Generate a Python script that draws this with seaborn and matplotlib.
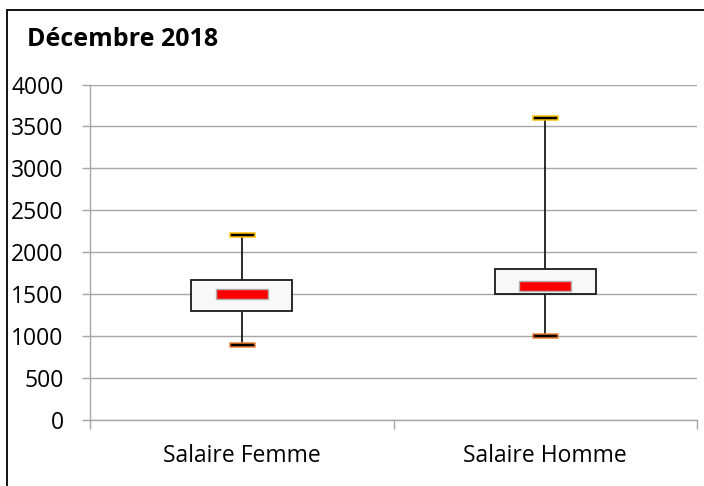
import numpy as np
import pandas as pd
import matplotlib
matplotlib.use("Agg")
import matplotlib.pyplot as plt
from matplotlib.path import Path
from matplotlib.lines import Line2D
import seaborn as sns

# ---- data ----
categories = ["Salaire Femme", "Salaire Homme"]
minimum = [900, 1000]
q1 = [1300, 1500]
median = [1500, 1600]
q3 = [1665, 1800]
maximum = [2200, 3600]
yticks = [0, 500, 1000, 1500, 2000, 2500, 3000, 3500, 4000]
title = "Décembre 2018"

# long table: five summary values per category (gives exact quartiles)
rows = []
for i, c in enumerate(categories):
    for v in (minimum[i], q1[i], median[i], q3[i], maximum[i]):
        rows.append({"cat": c, "val": v})
df = pd.DataFrame(rows)

sns.set_theme(style="white")
plt.rcParams["font.family"] = ["Open Sans", "DejaVu Sans"]

W, H = 704, 486
fig = plt.figure(figsize=(W / 100, H / 100), dpi=100)
ax = fig.add_axes([90 / W, 1 - 420 / H, (697 - 90) / W, (420 - 84.5) / H])

ax.set_axisbelow(True)
ax.yaxis.grid(True, color="#a6a6a6", linewidth=1.0)

sns.boxplot(data=df, x="cat", y="val", order=categories, whis=(0, 100),
            width=1 / 3, color="#f8f8f8", saturation=1, linecolor="#1a1a1a",
            linewidth=1.3, showcaps=False, showfliers=False,
            medianprops={"visible": False}, ax=ax)

def rect_marker(w, h):
    return Path([(-w / 2, -h / 2), (w / 2, -h / 2), (w / 2, h / 2),
                 (-w / 2, h / 2), (-w / 2, -h / 2)],
                [Path.MOVETO, Path.LINETO, Path.LINETO, Path.LINETO, Path.CLOSEPOLY])

px = 0.72  # points per pixel at 100 dpi
sns.stripplot(x=categories, y=median, order=categories, jitter=False,
              marker=rect_marker(52, 9.5), size=52 * px, color="#ff0000",
              edgecolor="#b0b0b0", linewidth=1.0, zorder=5, ax=ax)
sns.stripplot(x=categories, y=maximum, order=categories, jitter=False,
              marker=rect_marker(25, 4.8), size=25 * px, color="black",
              edgecolor="#ffc000", linewidth=1.1, zorder=5, ax=ax)
sns.stripplot(x=categories, y=minimum, order=categories, jitter=False,
              marker=rect_marker(25, 4.8), size=25 * px, color="black",
              edgecolor="#ed7d31", linewidth=1.1, zorder=5, ax=ax)

ax.set_xlim(-0.5, len(categories) - 0.5)
ax.set_ylim(yticks[0], yticks[-1])
ax.set_yticks(yticks)
ax.set_yticklabels([str(t) for t in yticks])
ax.set_xticks(np.arange(len(categories) + 1) - 0.5)
ax.set_xticklabels([])
ax.set_xticks(np.arange(len(categories)), labels=categories, minor=True)
ax.set_xlabel("")
ax.set_ylabel("")

for s in ("top", "right"):
    ax.spines[s].set_visible(False)
for s in ("left", "bottom"):
    ax.spines[s].set_color("#a6a6a6")
    ax.spines[s].set_linewidth(1.0)

ax.tick_params(axis="y", which="major", length=6, width=1.0, color="#a6a6a6",
               pad=13, labelsize=16.5, labelcolor="black", left=True)
ax.tick_params(axis="x", which="major", length=6.5, width=1.0, color="#a6a6a6",
               bottom=True)
ax.tick_params(axis="x", which="minor", length=0, pad=17, labelsize=16.5,
               labelcolor="black")

fig.text(27 / W, 1 - 39 / H, title, fontsize=18, fontweight="bold",
         ha="left", va="center", color="black")

# chart frame (only top and left edges visible in the crop)
fig.add_artist(Line2D([7 / W, 1.0], [1 - 10 / H, 1 - 10 / H], transform=fig.transFigure,
                      color="black", linewidth=1.3))
fig.add_artist(Line2D([7 / W, 7 / W], [0.0, 1 - 10 / H], transform=fig.transFigure,
                      color="black", linewidth=1.3))

fig.savefig("out.png", dpi=100, facecolor="white")
